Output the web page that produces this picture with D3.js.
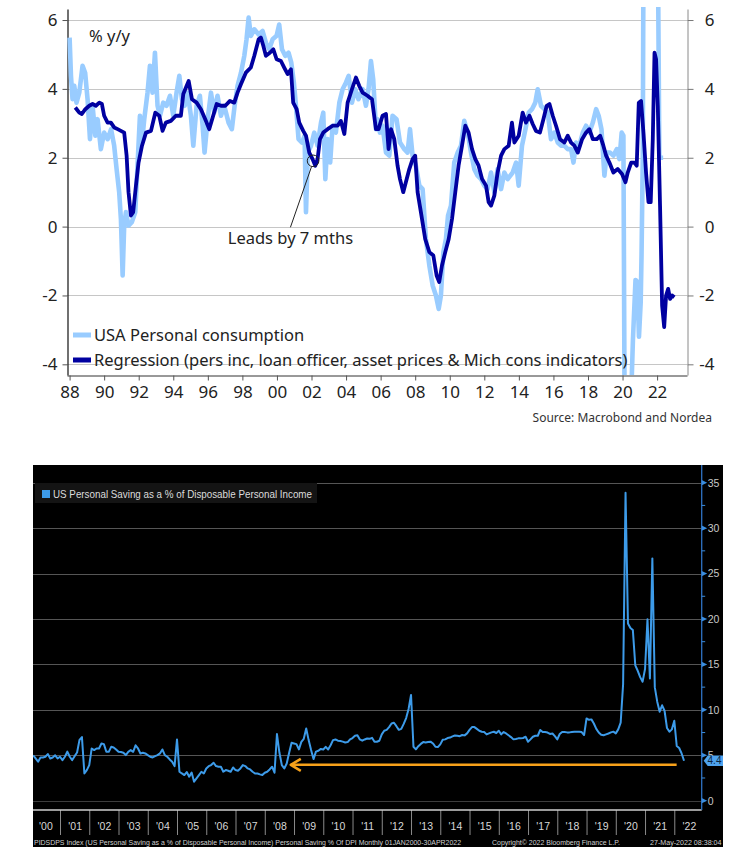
<!DOCTYPE html>
<html><head><meta charset="utf-8">
<script src="https://cdn.jsdelivr.net/npm/d3@7"></script>
<style>body{margin:0;background:#fff;}svg{display:block;}</style>
</head><body>
<script>
// ---------------- DATA: top chart (Macrobond / Nordea) ----------------
const consumption = [[1988.0,5.49],[1988.08,4.38],[1988.17,3.70],[1988.27,4.09],[1988.4,3.60],[1988.56,3.89],[1988.75,4.67],[1988.9,4.47],[1989.04,3.70],[1989.18,2.54],[1989.33,3.51],[1989.49,2.64],[1989.62,3.12],[1989.81,2.25],[1990.0,2.73],[1990.2,2.54],[1990.4,2.83],[1990.58,2.35],[1990.72,1.67],[1990.87,1.0],[1990.97,0.22],[1991.07,-1.42],[1991.16,0.03],[1991.26,0.42],[1991.41,0.03],[1991.6,0.13],[1991.8,0.42],[1991.94,1.86],[1992.07,3.22],[1992.19,2.44],[1992.32,3.12],[1992.51,3.89],[1992.65,4.67],[1992.8,3.89],[1992.94,5.05],[1993.09,3.51],[1993.23,3.22],[1993.42,3.60],[1993.61,3.51],[1993.81,3.80],[1994.0,3.22],[1994.19,3.89],[1994.35,4.38],[1994.5,3.70],[1994.66,3.51],[1994.83,3.89],[1995.02,3.22],[1995.16,2.35],[1995.35,3.51],[1995.54,3.80],[1995.7,2.93],[1995.81,2.15],[1995.99,3.12],[1996.18,3.89],[1996.37,3.31],[1996.56,3.80],[1996.76,3.22],[1996.95,3.51],[1997.2,3.02],[1997.39,2.83],[1997.55,3.51],[1997.72,4.09],[1997.92,4.47],[1998.11,4.96],[1998.24,5.44],[1998.36,6.07],[1998.49,5.54],[1998.69,5.73],[1998.94,5.58],[1999.17,5.68],[1999.36,5.34],[1999.55,5.15],[1999.75,5.44],[1999.98,5.54],[2000.13,5.87],[2000.29,5.15],[2000.48,4.96],[2000.67,5.05],[2000.83,4.76],[2000.98,4.18],[2001.1,3.51],[2001.25,2.54],[2001.45,2.44],[2001.6,2.64],[2001.68,0.42],[2001.79,2.15],[2001.97,2.35],[2002.16,2.73],[2002.35,2.35],[2002.55,3.02],[2002.68,3.31],[2002.8,1.38],[2002.93,2.54],[2003.08,1.86],[2003.22,2.93],[2003.41,2.73],[2003.61,3.60],[2003.8,3.99],[2003.99,4.18],[2004.15,4.38],[2004.34,3.60],[2004.53,3.99],[2004.72,3.70],[2004.96,3.99],[2005.15,3.51],[2005.3,3.99],[2005.44,4.81],[2005.57,4.28],[2005.73,2.83],
[2005.82,3.12],[2005.96,2.73],[2006.11,2.93],[2006.31,2.15],[2006.5,2.06],[2006.69,3.22],[2006.92,3.12],[2007.12,2.44],[2007.37,2.25],[2007.56,2.15],[2007.7,2.83],[2007.85,2.06],[2008.04,1.77],[2008.24,1.19],[2008.43,1.09],[2008.62,-0.36],[2008.82,-1.13],[2009.01,-1.71],[2009.2,-2.0],[2009.36,-2.39],[2009.49,-2.0],[2009.63,-0.74],[2009.78,-0.36],[2009.9,0.32],[2010.07,0.61],[2010.26,1.86],[2010.46,2.15],[2010.65,2.35],[2010.84,3.07],[2011.04,2.73],[2011.23,2.15],[2011.42,1.67],[2011.61,1.48],[2011.81,1.38],[2012.0,1.19],[2012.19,1.09],[2012.39,1.57],[2012.58,1.0],[2012.77,1.67],[2012.97,1.09],[2013.16,1.57],[2013.35,1.38],[2013.64,1.57],[2013.84,1.86],[2013.99,1.19],[2014.18,2.35],[2014.38,2.83],[2014.57,3.31],[2014.76,3.41],[2014.95,3.60],[2015.09,3.99],[2015.28,3.51],[2015.48,3.41],[2015.67,3.31],[2015.86,2.54],[2016.06,2.73],[2016.25,2.44],[2016.44,2.35],[2016.63,2.35],[2016.83,2.25],[2017.02,2.25],[2017.16,1.86],[2017.31,2.44],[2017.5,2.35],[2017.7,2.73],[2017.89,2.93],[2018.08,2.73],[2018.28,3.02],[2018.47,3.41],[2018.62,3.22],[2018.78,2.83],[2018.95,1.48],[2019.09,2.15],[2019.28,2.15],[2019.47,2.06],[2019.67,2.25],[2019.82,1.96],[2019.95,2.73],[2020.05,2.64],[2020.15,-9],[2020.3,-16],[2020.42,-10],[2020.52,-4.6],[2020.6,-3.3],[2020.75,-1.55],[2020.85,-1.6],[2020.95,-3.2],[2021.05,-2.2],[2021.1,-0.8],[2021.17,2.0],[2021.24,12],[2021.35,20],[2021.5,12],[2021.7,9],[2021.9,8],[2022.06,7],[2022.13,2.0],[2022.35,2.0]];

const regression = [[1988.33,3.46],[1988.56,3.31],[1988.71,3.27],[1988.91,3.41],[1989.14,3.51],[1989.33,3.56],[1989.52,3.51],[1989.72,3.60],[1989.87,3.56],[1990.0,3.22],[1990.2,3.02],[1990.39,3.02],[1990.58,2.88],[1990.78,2.83],[1990.97,2.78],[1991.16,2.73],[1991.3,2.06],[1991.41,1.0],[1991.55,0.32],[1991.68,0.42],[1991.84,1.19],[1991.99,1.86],[1992.19,2.35],[1992.42,2.73],[1992.71,2.78],[1992.96,3.31],[1993.19,3.22],[1993.38,2.78],[1993.57,3.02],[1993.86,3.07],[1994.15,3.22],[1994.44,3.22],[1994.58,3.85],[1994.89,4.23],[1995.08,3.70],[1995.35,3.60],[1995.6,3.41],[1995.85,3.12],[1996.08,2.83],[1996.31,3.22],[1996.51,3.56],[1996.76,3.51],[1997.01,3.51],[1997.28,3.65],[1997.53,3.60],[1997.72,3.89],[1997.92,4.14],[1998.2,4.47],[1998.49,4.62],[1998.69,4.96],[1998.94,5.44],[1999.07,5.49],[1999.21,5.25],[1999.36,4.96],[1999.59,5.05],[1999.79,5.15],[1999.98,4.86],[2000.23,4.81],[2000.42,4.62],[2000.62,4.43],[2000.81,4.57],[2000.94,3.60],[2001.14,3.41],[2001.29,3.02],[2001.52,2.78],[2001.68,2.64],[2001.87,2.15],[2002.06,1.96],[2002.22,1.77],[2002.35,1.96],[2002.49,2.54],[2002.68,2.73],[2002.93,2.83],[2003.22,2.93],[2003.51,2.93],[2003.7,3.07],[2003.9,2.69],[2004.09,3.60],[2004.34,3.99],[2004.57,4.33],[2004.76,4.09],[2004.96,3.89],[2005.24,3.80],[2005.5,3.70],[2005.73,2.83],
[2005.88,2.83],[2006.11,3.22],[2006.31,3.27],[2006.46,2.25],[2006.6,2.83],[2006.79,2.54],[2006.98,1.77],[2007.12,1.38],[2007.31,1.0],[2007.46,1.29],[2007.66,1.67],[2007.85,1.96],[2008.0,2.06],[2008.14,1.0],[2008.33,0.42],[2008.58,-0.36],[2008.82,-0.74],[2009.05,-0.84],[2009.24,-1.42],[2009.39,-1.61],[2009.55,-1.13],[2009.74,-0.74],[2009.94,-0.36],[2010.13,0.22],[2010.32,1.0],[2010.51,1.77],[2010.71,2.35],[2010.9,2.93],[2011.09,2.73],[2011.29,2.25],[2011.48,1.96],[2011.67,1.77],[2011.87,1.38],[2012.1,1.19],[2012.25,0.71],[2012.39,0.61],[2012.58,0.90],[2012.77,1.57],[2012.97,2.06],[2013.16,2.25],[2013.41,2.35],[2013.6,3.02],[2013.74,2.44],[2013.99,2.64],[2014.22,3.31],[2014.41,3.02],[2014.61,3.22],[2014.8,2.98],[2014.99,2.78],[2015.22,2.73],[2015.42,3.12],[2015.61,3.51],[2015.77,3.56],[2015.96,3.22],[2016.15,2.93],[2016.38,2.54],[2016.63,2.44],[2016.83,2.64],[2017.02,2.44],[2017.21,2.35],[2017.41,2.15],[2017.66,2.54],[2017.89,2.73],[2018.08,2.83],[2018.28,2.54],[2018.51,2.54],[2018.7,2.64],[2018.89,2.35],[2019.05,2.06],[2019.24,1.86],[2019.47,1.57],[2019.72,1.67],[2019.97,1.53],[2020.17,1.29],[2020.3,1.57],[2020.5,1.86],[2020.69,1.86],[2020.82,1.77],[2020.94,3.60],[2021.07,3.65],[2021.21,2.73],[2021.36,1.57],[2021.5,0.71],[2021.63,0.71],[2021.75,2.54],[2021.85,5.05],[2021.94,4.86],[2022.04,3.51],[2022.17,0.61],[2022.29,-2.29],[2022.41,-2.92],[2022.52,-2.0],[2022.64,-1.81],[2022.75,-2.10],[2022.87,-2.0],[2023.0,-2.05]];

const topSeriesNames = ["USA Personal consumption", "Regression (pers inc, loan officer, asset prices & Mich cons indicators)"];
const topYTicks = [-4, -2, 0, 2, 4, 6];
const topXTickYears = [1988,1990,1992,1994,1996,1998,2000,2002,2004,2006,2008,2010,2012,2014,2016,2018,2020,2022];
const topXTickLabels = ["88","90","92","94","96","98","00","02","04","06","08","10","12","14","16","18","20","22"];
const leadNote = {text: "Leads by 7 mths", textAt: [2000.78, -0.5], lineFrom: [2000.78, -0.02], lineTo: [2002.0, 1.74], circle: [2002.09, 1.91]};

// ---------------- DATA: bottom chart (Bloomberg) ----------------
const savingStart = 2000; // monthly, Jan 2000 .. Apr 2022
const savingValues = [
5.0,4.65,4.3,4.76,4.76,4.84,5.13,4.65,4.76,5.0,
4.65,4.84,4.47,4.84,5.4,4.84,4.47,4.9,5.3,6.7,
7.0,3.0,3.37,3.92,5.75,5.57,5.75,5.75,6.3,6.23,
5.38,5.38,5.93,5.86,5.64,5.38,5.35,5.28,5.02,5.38,
5.57,5.38,6.1,5.75,5.2,5.28,5.2,5.02,4.84,4.76,
4.9,5.02,5.2,5.64,5.02,4.84,4.54,4.29,3.81,6.74,
3.19,3.0,2.82,3.15,2.64,3.1,2.09,2.45,2.82,3.19,
3.0,3.55,3.8,3.92,4.18,3.81,3.74,3.74,3.19,3.37,
3.3,3.19,3.66,3.37,3.3,3.55,3.92,3.81,3.55,3.44,
3.19,3.0,3.0,2.9,2.82,3.08,3.19,3.44,3.74,3.08,
7.33,5.3,3.92,3.55,4.1,5.28,6.37,6.3,6.23,5.64,
6.48,6.81,7.95,6.67,5.57,4.58,5.4,5.5,5.7,5.64,
5.93,5.64,6.1,6.67,6.74,6.6,6.56,6.5,6.4,6.45,
6.75,6.9,7.15,7.2,6.74,6.6,6.74,6.85,6.81,6.92,
6.49,6.49,6.6,7.3,7.7,7.8,8.1,8.5,8.58,8.2,
7.8,7.9,8.45,9.1,10.1,11.63,5.94,5.65,6.0,6.25,
6.45,6.4,6.45,6.5,6.3,5.94,5.9,6.2,6.7,6.75,
6.9,6.95,7.08,7.17,7.15,7.1,7.23,7.19,7.41,7.8,
8.1,8.1,7.9,7.7,7.59,7.55,7.3,7.41,7.52,7.59,
7.45,7.7,7.3,7.55,7.4,7.2,7.0,6.75,6.8,6.86,
6.86,6.9,7.04,6.49,6.75,7.04,7.15,7.15,7.78,7.56,
7.56,7.5,7.35,7.4,7.1,6.75,7.34,7.56,7.56,7.52,
7.52,7.56,7.59,7.59,7.59,7.56,7.23,9.06,8.9,8.95,
8.5,7.9,7.5,7.25,7.2,7.3,7.4,7.52,7.6,7.41,
7.85,8.6,12.8,33.9,19.5,19.0,18.78,14.9,14.3,13.6,
13.1,14.5,19.96,13.46,26.67,12.5,10.9,9.8,10.5,9.9,
8.0,7.6,7.85,8.8,6.02,5.8,5.2,4.4];
const savingName = "US Personal Saving as a % of Disposable Personal Income";
const botYTicks = [0, 5, 10, 15, 20, 25, 30, 35];
const botYMinor = [2.5, 7.5, 12.5, 17.5, 22.5, 27.5, 32.5];
const botXYears = [2000,2001,2002,2003,2004,2005,2006,2007,2008,2009,2010,2011,2012,2013,2014,2015,2016,2017,2018,2019,2020,2021,2022];
const botXLabels = ["'00","'01","'02","'03","'04","'05","'06","'07","'08","'09","'10","'11","'12","'13","'14","'15","'16","'17","'18","'19","'20","'21","'22"];
const lastValueLabel = "4.4";
const arrowNote = {from: 2022.08, to: 2008.89, level: 3.95};
const footer = ["PIDSDPS Index (US Personal Saving as a % of Disposable Personal Income) Personal Saving % Of DPI  Monthly 01JAN2000-30APR2022",
                "Copyright\u00A9 2022 Bloomberg Finance L.P.", "27-May-2022 08:38:04"];

// ---------------- DRAW ----------------
const W = 751, H = 866;
const svg = d3.select("body").append("svg").attr("width", W).attr("height", H);
svg.append("rect").attr("width", W).attr("height", H).attr("fill", "#fff");
const defs = svg.append("defs");

const FT = '"Noto Sans", "Open Sans", sans-serif';
const tx = d3.scaleLinear().domain([1987.85, 2023.73]).range([67, 687]);
const ty = d3.scaleLinear().domain([-4.31, 6.32]).range([375, 9]);
const T = svg.append("g");

// gridlines
T.append("g").selectAll("line").data(topYTicks).join("line")
  .attr("x1", 67).attr("x2", 687)
  .attr("y1", d => Math.round(ty(d)) + 0.5).attr("y2", d => Math.round(ty(d)) + 0.5)
  .attr("stroke", "#c6c6c6").attr("stroke-width", 1);

// axes
const axL = T.append("g").attr("transform", "translate(67.5,0)")
  .call(d3.axisLeft(ty).tickValues(topYTicks).tickFormat(d => String(d)).tickSize(5).tickSizeOuter(0).tickPadding(5));
axL.attr("font-family", FT).attr("font-size", 17);
axL.select(".domain").attr("stroke", "#111").attr("stroke-width", 1.2);
axL.selectAll(".tick line").attr("stroke", "#555");
axL.selectAll("text").attr("fill", "#222");

const axR = T.append("g").attr("transform", "translate(687.5,0)")
  .call(d3.axisRight(ty).tickValues(topYTicks).tickFormat(d => String(d)).tickSize(6).tickSizeOuter(0));
axR.attr("font-family", FT).attr("font-size", 17);
axR.select(".domain").attr("stroke", "#8a8a8a");
axR.selectAll(".tick line").attr("stroke", "#777");
axR.selectAll("text").attr("fill", "#222").attr("text-anchor", "end").attr("x", 27);

const axB = T.append("g").attr("transform", "translate(0,375.5)")
  .call(d3.axisBottom(tx).tickValues(topXTickYears).tickFormat((d, i) => topXTickLabels[i]).tickSize(5).tickSizeOuter(0).tickPadding(5));
axB.attr("font-family", FT).attr("font-size", 17);
axB.select(".domain").attr("stroke", "#333");
axB.selectAll(".tick line").attr("stroke", "#555");
axB.selectAll("text").attr("fill", "#222");

// lines
defs.append("clipPath").attr("id", "clipTop").append("rect").attr("x", 67).attr("y", 7).attr("width", 620).attr("height", 368);
const lineT = d3.line().x(d => tx(d[0])).y(d => ty(d[1]));
const gl = T.append("g").attr("clip-path", "url(#clipTop)");
gl.append("path").datum(consumption).attr("d", lineT).attr("fill", "none")
  .attr("stroke", "#99ccff").attr("stroke-width", 4.6).attr("stroke-linejoin", "round");
gl.append("path").datum(regression).attr("d", lineT).attr("fill", "none")
  .attr("stroke", "#0000a0").attr("stroke-width", 3.8).attr("stroke-linejoin", "round");

// text: unit, annotation
T.append("text").attr("x", 89).attr("y", 42).attr("font-family", FT).attr("font-size", 16.5).attr("fill", "#222").text("% y/y");
T.append("line").attr("x1", tx(leadNote.lineFrom[0])).attr("y1", ty(leadNote.lineFrom[1]))
  .attr("x2", tx(leadNote.lineTo[0])).attr("y2", ty(leadNote.lineTo[1])).attr("stroke", "#222").attr("stroke-width", 1);
T.append("circle").attr("cx", tx(leadNote.circle[0])).attr("cy", ty(leadNote.circle[1])).attr("r", 5.8)
  .attr("fill", "none").attr("stroke", "#222").attr("stroke-width", 1);
T.append("text").attr("x", tx(leadNote.textAt[0])).attr("y", ty(leadNote.textAt[1])).attr("text-anchor", "middle")
  .attr("font-family", FT).attr("font-size", 16.5).attr("fill", "#222").text(leadNote.text);

// legend
const legColors = ["#99ccff", "#0000a0"];
const lg = T.append("g").selectAll("g").data(topSeriesNames).join("g")
  .attr("transform", (d, i) => `translate(0,${335 + i * 25})`);
lg.append("line").attr("x1", 73).attr("x2", 91).attr("stroke", (d, i) => legColors[i]).attr("stroke-width", 5);
lg.append("text").attr("x", 94).attr("y", 6).attr("font-family", FT).attr("font-size", 16.5).attr("fill", "#222").text(d => d);

T.append("text").attr("x", 712).attr("y", 422).attr("text-anchor", "end").attr("font-family", FT)
  .attr("font-size", 12).attr("fill", "#333").text("Source: Macrobond and Nordea");

// ---------------- BOTTOM ----------------
const FB = '"Liberation Sans", Arial, sans-serif';
const bx = d3.scaleLinear().domain([2000, 2023]).range([30.75, 30.75 + 23 * 29.252]);
const by = d3.scaleLinear().domain([0, 35]).range([800.7, 482.7]);
const B = svg.append("g").attr("font-family", FB);
const plotR = 701.7;
B.append("rect").attr("x", 33).attr("y", 465).attr("width", 690).attr("height", 382).attr("fill", "#000");

B.append("g").selectAll("line").data(botYTicks).join("line")
  .attr("x1", 33).attr("x2", plotR)
  .attr("y1", d => Math.round(by(d)) + 0.5).attr("y2", d => Math.round(by(d)) + 0.5)
  .attr("stroke", d => d === 0 ? "#3c3c3c" : "#555").attr("stroke-width", 1);

// legend box
B.append("rect").attr("x", 35).attr("y", 483).attr("width", 282).attr("height", 20).attr("fill", "#141414");
B.append("rect").attr("x", 42).attr("y", 490).attr("width", 8).attr("height", 8).attr("fill", "#3d9be9");
B.append("text").attr("x", 53).attr("y", 497.5).attr("font-size", 10.5).attr("fill", "#dcdcdc")
  .attr("textLength", 259).attr("lengthAdjust", "spacingAndGlyphs").text(savingName);

// series
defs.append("clipPath").attr("id", "clipBot").append("rect").attr("x", 33).attr("y", 465).attr("width", plotR - 33).attr("height", 345);
const lineB = d3.line().x((d, i) => bx(savingStart + (i + 1) / 12)).y(d => by(d));
B.append("g").attr("clip-path", "url(#clipBot)").append("path").datum(savingValues).attr("d", lineB)
  .attr("fill", "none").attr("stroke", "#3d9be9").attr("stroke-width", 2).attr("stroke-linejoin", "round");

// orange arrow
const ay = by(arrowNote.level), ax0 = bx(arrowNote.to), ax1 = bx(arrowNote.from);
B.append("line").attr("x1", ax0).attr("x2", ax1).attr("y1", ay).attr("y2", ay).attr("stroke", "#f7a11a").attr("stroke-width", 2.6);
B.append("path").attr("d", `M${ax0 + 10},${ay - 6}L${ax0},${ay}L${ax0 + 10},${ay + 6}`)
  .attr("fill", "none").attr("stroke", "#f7a11a").attr("stroke-width", 2.6).attr("stroke-linejoin", "round");

// x axis: separators + labels
const axBS = B.append("g").attr("transform", "translate(0,810)")
  .call(d3.axisBottom(bx).tickValues(botXYears.slice(1)).tickFormat("").tickSize(25).tickSizeOuter(0));
axBS.select(".domain").remove();
axBS.selectAll(".tick line").attr("stroke", "#8a8a8a");
B.append("line").attr("x1", 33).attr("x2", plotR).attr("y1", 810).attr("y2", 810).attr("stroke", "#cfcfcf").attr("stroke-width", 1.4);
const axBL = B.append("g").attr("transform", "translate(0,810)")
  .call(d3.axisBottom(bx).tickValues(botXYears.map(y => y + 0.5)).tickFormat((d, i) => botXLabels[i]).tickSize(0).tickPadding(13));
axBL.select(".domain").remove();
axBL.attr("font-family", FB).attr("font-size", 10.5);
axBL.selectAll("text").attr("fill", "#d8d8d8");

// right axis
B.append("line").attr("x1", plotR).attr("x2", plotR).attr("y1", 465).attr("y2", 810).attr("stroke", "#2f72c4").attr("stroke-width", 1.3);
const axRB = B.append("g").attr("transform", `translate(${plotR},0)`)
  .call(d3.axisRight(by).tickValues(botYTicks).tickSize(0).tickPadding(6));
axRB.select(".domain").remove();
axRB.attr("font-family", FB).attr("font-size", 10.5);
axRB.selectAll("text").attr("fill", "#c8c8c8");
B.append("g").selectAll("path").data(botYTicks).join("path")
  .attr("d", d => `M${plotR},${by(d) - 2.6}L${plotR + 5.5},${by(d)}L${plotR},${by(d) + 2.6}Z`).attr("fill", "#3a8ee0");
B.append("g").selectAll("line").data(botYMinor).join("line")
  .attr("x1", plotR).attr("x2", plotR + 3.5).attr("y1", d => by(d)).attr("y2", d => by(d)).attr("stroke", "#3a8ee0");

// last value tag
const lv = savingValues[savingValues.length - 1], ly = by(lv);
B.append("path").attr("d", `M${plotR + 2},${ly}L${plotR + 6},${ly - 5.3}L723,${ly - 5.3}L723,${ly + 5.3}L${plotR + 6},${ly + 5.3}Z`).attr("fill", "#4ea3ee");
B.append("text").attr("x", 714.5).attr("y", ly + 3.6).attr("text-anchor", "middle").attr("font-size", 10).attr("fill", "#0b2540").text(lastValueLabel);

// footer
B.append("text").attr("x", 34).attr("y", 844.5).attr("font-size", 7.5).attr("fill", "#d0d0d0")
  .attr("textLength", 427).attr("lengthAdjust", "spacingAndGlyphs").text(footer[0]);
B.append("text").attr("x", 492).attr("y", 844.5).attr("font-size", 7.5).attr("fill", "#d0d0d0")
  .attr("textLength", 128).attr("lengthAdjust", "spacingAndGlyphs").text(footer[1]);
B.append("text").attr("x", 650).attr("y", 844.5).attr("font-size", 7.5).attr("fill", "#d0d0d0")
  .attr("textLength", 71.5).attr("lengthAdjust", "spacingAndGlyphs").text(footer[2]);
</script>
</body></html>
